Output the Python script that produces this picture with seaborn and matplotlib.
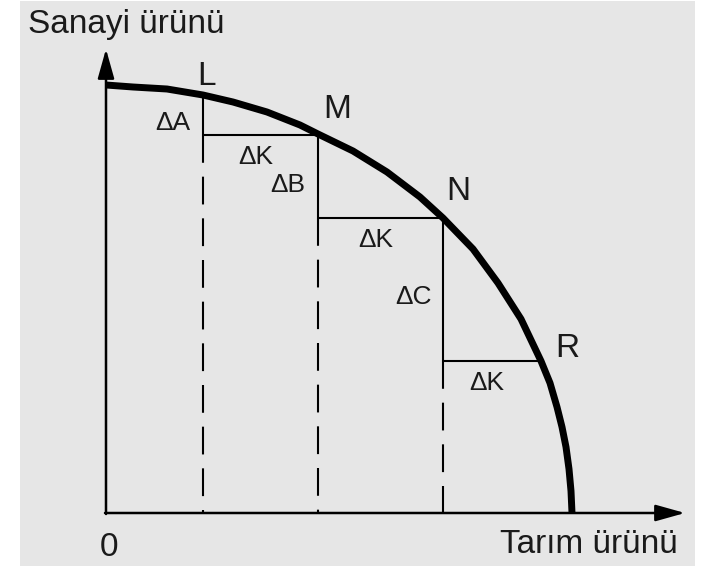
import matplotlib
matplotlib.use('Agg')
import matplotlib.pyplot as plt
from matplotlib.patches import Rectangle
import pandas as pd
import seaborn as sns

# frontier (arbitrary units, origin at 0)
curve_x = [0, 27, 61, 97, 127, 161, 194, 212, 247, 281, 314, 337, 367, 392, 415,
           435, 444, 451, 456, 460, 463, 465, 466]
curve_y = [428, 426, 424, 418, 411, 401, 388, 379, 362, 341, 316, 295, 264, 230, 194,
           152, 130, 106, 86, 66, 44, 22, 0]

point_names = ['L', 'M', 'N', 'R']
point_x = [97, 212, 337, 435]
point_y = [418, 378, 295, 152]
step_names = ['ΔA', 'ΔB', 'ΔC']
run_name = 'ΔK'

x_title = 'Tarım ürünü'
y_title = 'Sanayi ürünü'

sns.set_theme(style='white')
plt.rcParams['font.family'] = ['Liberation Sans', 'DejaVu Sans']
plt.rcParams['lines.scale_dashes'] = False
txt_color = '#1a1a1a'

fig = plt.figure(figsize=(7.12, 5.69), dpi=100)
fig.patch.set_facecolor('white')
fig.patches.append(Rectangle((20 / 712, 3 / 569), 675 / 712, 565 / 569,
                             transform=fig.transFigure, facecolor='#e6e6e6',
                             edgecolor='none', zorder=-10))

ax = fig.add_axes([106 / 712, 56 / 569, 579 / 712, 463 / 569])
ax.set_facecolor('none')
ax.set_xlim(0, 579)
ax.set_ylim(0, 463)
for s in ax.spines.values():
    s.set_visible(False)
ax.set_xticks([])
ax.set_yticks([])

frontier = pd.DataFrame({'tarim': curve_x, 'sanayi': curve_y})
sns.lineplot(data=frontier, x='tarim', y='sanayi', sort=False, color='black',
             lw=5, ax=ax, zorder=5, solid_capstyle='butt', solid_joinstyle='round')
ax.set_xlabel('')
ax.set_ylabel('')

# axes arrows
arrow = dict(arrowstyle='-|>,head_length=1.0,head_width=0.28', color='black',
             lw=1.8, mutation_scale=18, shrinkA=0, shrinkB=0)
ax.annotate('', xy=(579, 0), xytext=(-1, 0), arrowprops=arrow, annotation_clip=False)
ax.annotate('', xy=(0, 464), xytext=(0, -1), arrowprops=arrow, annotation_clip=False)

# step triangles and dashed drops
for i in range(len(point_x) - 1):
    x0, y0 = point_x[i], point_y[i]
    x1, y1 = point_x[i + 1], point_y[i + 1]
    ax.plot([x0, x0, x1], [y0, y1, y1], color='black', lw=1.5, zorder=4)
    ax.plot([x0, x0], [y1, 0], color='black', lw=1.5, dashes=(20, 10), zorder=4)
    ax.text(x0 - 30, (y0 + y1) / 2 - 15, step_names[i], fontsize=19,
            ha='center', va='baseline', color=txt_color)
    ax.text((x0 + x1) / 2 - 5, y1 - 29, run_name, fontsize=19,
            ha='center', va='baseline', color=txt_color)

label_off = {'L': (3, 10), 'M': (19, 17), 'N': (15, 18), 'R': (26, 4)}
for name, x, y in zip(point_names, point_x, point_y):
    dx, dy = label_off[name]
    ax.text(x + dx, y + dy, name, fontsize=24, ha='center', va='baseline',
            color=txt_color)

ax.text(3, -43, '0', fontsize=24, ha='center', va='baseline', clip_on=False,
        color=txt_color)
ax.text(394, -40, x_title, fontsize=24, ha='left', va='baseline', clip_on=False,
        color=txt_color)
ax.text(-78, 480, y_title, fontsize=24, ha='left', va='baseline', clip_on=False,
        color=txt_color)

fig.savefig('out.png', dpi=100)
